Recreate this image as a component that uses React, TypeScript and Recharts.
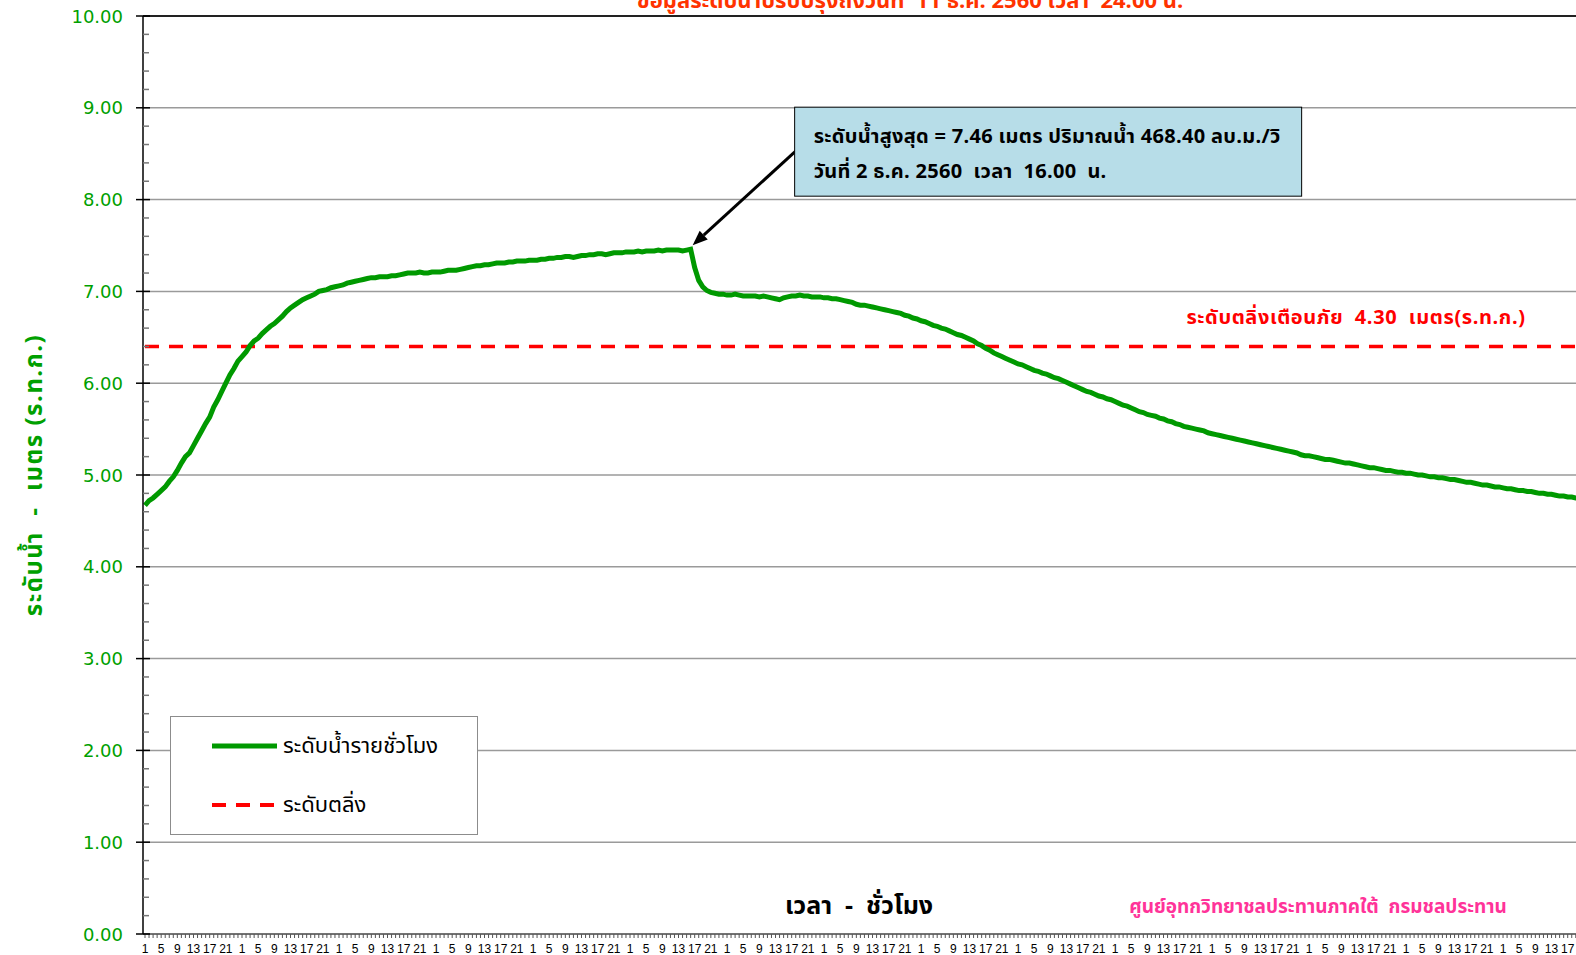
import { LineChart, Line, XAxis, YAxis, ReferenceLine, ReferenceDot, Legend } from 'recharts';

// hourly water level (m) for each day, hours 1..24
const nov27 = [4.67, 4.72, 4.75, 4.79, 4.83, 4.87, 4.93, 4.98, 5.05, 5.13, 5.2, 5.24, 5.32, 5.4, 5.48, 5.56, 5.63, 5.74, 5.82, 5.91, 6.0, 6.09, 6.16, 6.24];
const nov28 = [6.29, 6.34, 6.41, 6.46, 6.49, 6.54, 6.58, 6.62, 6.65, 6.69, 6.73, 6.78, 6.82, 6.85, 6.88, 6.91, 6.93, 6.95, 6.97, 7.0, 7.01, 7.02, 7.04, 7.05];
const nov29 = [7.06, 7.07, 7.09, 7.1, 7.11, 7.12, 7.13, 7.14, 7.15, 7.15, 7.16, 7.16, 7.16, 7.17, 7.17, 7.18, 7.19, 7.2, 7.2, 7.2, 7.21, 7.2, 7.2, 7.21];
const nov30 = [7.21, 7.21, 7.22, 7.23, 7.23, 7.23, 7.24, 7.25, 7.26, 7.27, 7.28, 7.28, 7.29, 7.29, 7.3, 7.31, 7.31, 7.31, 7.32, 7.32, 7.33, 7.33, 7.33, 7.34];
const dec01 = [7.34, 7.34, 7.35, 7.35, 7.36, 7.36, 7.37, 7.37, 7.38, 7.38, 7.37, 7.38, 7.39, 7.39, 7.4, 7.4, 7.41, 7.41, 7.4, 7.41, 7.42, 7.42, 7.42, 7.43];
const dec02 = [7.43, 7.43, 7.44, 7.43, 7.44, 7.44, 7.44, 7.45, 7.44, 7.45, 7.45, 7.45, 7.45, 7.44, 7.45, 7.46, 7.26, 7.12, 7.05, 7.01, 6.99, 6.98, 6.97, 6.97];
const dec03 = [6.96, 6.96, 6.97, 6.96, 6.95, 6.95, 6.95, 6.95, 6.94, 6.95, 6.94, 6.93, 6.92, 6.91, 6.93, 6.94, 6.95, 6.95, 6.96, 6.95, 6.95, 6.94, 6.94, 6.94];
const dec04 = [6.93, 6.93, 6.92, 6.92, 6.91, 6.9, 6.89, 6.88, 6.86, 6.85, 6.85, 6.84, 6.83, 6.82, 6.81, 6.8, 6.79, 6.78, 6.77, 6.76, 6.74, 6.73, 6.71, 6.7];
const dec05 = [6.68, 6.67, 6.65, 6.63, 6.62, 6.6, 6.59, 6.57, 6.55, 6.53, 6.52, 6.5, 6.48, 6.46, 6.43, 6.41, 6.38, 6.36, 6.33, 6.31, 6.29, 6.27, 6.25, 6.23];
const dec06 = [6.21, 6.2, 6.18, 6.16, 6.14, 6.13, 6.11, 6.1, 6.08, 6.06, 6.05, 6.03, 6.01, 5.99, 5.97, 5.95, 5.93, 5.91, 5.9, 5.88, 5.86, 5.85, 5.83, 5.82];
const dec07 = [5.8, 5.78, 5.76, 5.75, 5.73, 5.71, 5.69, 5.68, 5.66, 5.65, 5.64, 5.62, 5.61, 5.59, 5.58, 5.56, 5.55, 5.53, 5.52, 5.51, 5.5, 5.49, 5.48, 5.46];
const dec08 = [5.45, 5.44, 5.43, 5.42, 5.41, 5.4, 5.39, 5.38, 5.37, 5.36, 5.35, 5.34, 5.33, 5.32, 5.31, 5.3, 5.29, 5.28, 5.27, 5.26, 5.25, 5.24, 5.22, 5.21];
const dec09 = [5.21, 5.2, 5.19, 5.18, 5.17, 5.17, 5.16, 5.15, 5.14, 5.13, 5.13, 5.12, 5.11, 5.1, 5.09, 5.08, 5.08, 5.07, 5.06, 5.05, 5.05, 5.04, 5.03, 5.03];
const dec10 = [5.02, 5.02, 5.01, 5.0, 5.0, 4.99, 4.98, 4.98, 4.97, 4.97, 4.96, 4.95, 4.95, 4.94, 4.93, 4.92, 4.92, 4.91, 4.9, 4.89, 4.89, 4.88, 4.87, 4.87];
const dec11 = [4.86, 4.85, 4.85, 4.84, 4.83, 4.83, 4.82, 4.82, 4.81, 4.8, 4.8, 4.79, 4.79, 4.78, 4.77, 4.77, 4.76, 4.76, 4.75, 4.75, 4.74, 4.74, 4.73, 4.73];

const dates = ['27 พ.ย.', '28 พ.ย.', '29 พ.ย.', '30 พ.ย.', '1 ธ.ค.', '2 ธ.ค.', '3 ธ.ค.', '4 ธ.ค.', '5 ธ.ค.', '6 ธ.ค.', '7 ธ.ค.', '8 ธ.ค.', '9 ธ.ค.', '10 ธ.ค.', '11 ธ.ค.'];
const hoursOfDay = [1, 2, 3, 4, 5, 6, 7, 8, 9, 10, 11, 12, 13, 14, 15, 16, 17, 18, 19, 20, 21, 22, 23, 24];
const labelledHours = [1, 5, 9, 13, 17, 21];
const yTicks = [0, 1, 2, 3, 4, 5, 6, 7, 8, 9, 10];
const bankLevel = 6.4;
const peakDate = '2 ธ.ค.';
const peakHour = 16;
const peakLevel = 7.46;

const levelsByDay = [nov27, nov28, nov29, nov30, dec01, dec02, dec03, dec04, dec05, dec06, dec07, dec08, dec09, dec10, dec11];

const data = dates.flatMap((d, di) =>
  hoursOfDay.map((h, hi) => ({ t: `${d} ${h}`, hour: h, level: levelsByDay[di][hi], bank: bankLevel }))
);

const minorTicks = Array.from({ length: 51 }, (_, i) => Math.round(i * 20) / 100);

const GREEN = '#009900';
const LABEL_GREEN = '#00a000';
const RED = '#ff0000';
const thaiFont = "Tahoma, 'Noto Sans Thai', 'Noto Sans', 'DejaVu Sans', sans-serif";

const YTick = (props: any) => {
  const { x, y, payload } = props;
  const v = payload.value;
  const major = Math.abs(v - Math.round(v)) < 0.001;
  if (!major) {
    return <line x1={x} y1={y} x2={x + 6} y2={y} stroke="#777" strokeWidth={1.5} />;
  }
  return (
    <g>
      <line x1={x - 7} y1={y} x2={x + 7} y2={y} stroke="#000" strokeWidth={1.5} />
      <text x={x - 20} y={y} textAnchor="end" dominantBaseline="central" fill={LABEL_GREEN} fontSize={18} fontFamily="'DejaVu Sans', sans-serif">
        {v.toFixed(2)}
      </text>
    </g>
  );
};

const XTick = (props: any) => {
  const { x, y, index } = props;
  const h = data[index] ? data[index].hour : 0;
  return (
    <g>
      <line x1={x} y1={y} x2={x} y2={y + 4} stroke="#555" strokeWidth={1} />
      {labelledHours.includes(h) && (
        <text x={x} y={y + 15} textAnchor="middle" dominantBaseline="central" fill="#000" fontSize={12} fontFamily="'Liberation Sans', sans-serif">
          {h}
        </text>
      )}
    </g>
  );
};

const YAxisTitle = (props: any) => {
  const vb = props.viewBox || { y: 16, height: 918 };
  const cx = 35;
  const cy = vb.y + vb.height / 2;
  return (
    <text x={cx} y={cy} transform={`rotate(-90 ${cx} ${cy})`} textAnchor="middle" dominantBaseline="central" fill={LABEL_GREEN} fontSize={24} fontWeight="bold" letterSpacing={1.5} fontFamily={thaiFont} style={{ whiteSpace: 'pre' }}>
      ระดับน้ำ  -  เมตร (ร.ท.ก.)
    </text>
  );
};

const PeakNote = (props: any) => {
  const { cx, cy } = props;
  const tipX = cx + 2;
  const tipY = cy - 4;
  const sx = cx + 105;
  const sy = cy - 98;
  const dx = tipX - sx;
  const dy = tipY - sy;
  const len = Math.sqrt(dx * dx + dy * dy);
  const ux = dx / len;
  const uy = dy / len;
  const bx = tipX - ux * 15;
  const by = tipY - uy * 15;
  const head = `${tipX},${tipY} ${bx - uy * 6},${by + ux * 6} ${bx + uy * 6},${by - ux * 6}`;
  const boxX = cx + 104;
  const boxY = cy - 142;
  return (
    <g>
      <line x1={sx} y1={sy} x2={bx} y2={by} stroke="#000" strokeWidth={3} />
      <polygon points={head} fill="#000" />
      <rect x={boxX} y={boxY} width={507} height={89} fill="#b7dde8" stroke="#000" strokeWidth={1} />
      <text x={boxX + 19} y={boxY + 30} dominantBaseline="central" fontSize={20} fontWeight="bold" letterSpacing={0.3} fill="#000" fontFamily={thaiFont}>
        {`ระดับน้ำสูงสุด = ${peakLevel.toFixed(2)} เมตร ปริมาณน้ำ 468.40 ลบ.ม./วิ`}
      </text>
      <text x={boxX + 19} y={boxY + 65} dominantBaseline="central" fontSize={20} fontWeight="bold" letterSpacing={0.3} fill="#000" fontFamily={thaiFont} style={{ whiteSpace: 'pre' }}>
        {`วันที่ 2 ธ.ค. 2560  เวลา  ${peakHour.toFixed(2)}  น.`}
      </text>
    </g>
  );
};

const LegendBox = () => (
  <div style={{ width: 306, height: 117, border: '1px solid #8c8c8c', background: '#fff' }}>
    <svg width={306} height={117} style={{ display: 'block' }}>
      <line x1={41} y1={29} x2={106} y2={29} stroke={GREEN} strokeWidth={5} />
      <line x1={41} y1={88} x2={106} y2={88} stroke={RED} strokeWidth={4} strokeDasharray="14 10" />
      <text x={112} y={29} dominantBaseline="central" fontSize={22} fill="#000" fontFamily={thaiFont}>ระดับน้ำรายชั่วโมง</text>
      <text x={112} y={88} dominantBaseline="central" fontSize={22} fill="#000" fontFamily={thaiFont}>ระดับตลิ่ง</text>
    </svg>
  </div>
);

export default function App() {
  return (
    <div style={{ position: 'fixed', left: 0, top: 0, width: 1576, height: 955, overflow: 'hidden', background: '#fff' }}>
      <LineChart width={1640} height={955} data={data} margin={{ top: 16, right: 42, bottom: 0, left: 0 }}>
        <XAxis
          dataKey="t"
          interval={0}
          tick={<XTick />}
          tickLine={false}
          tickSize={0}
          tickMargin={0}
          height={21}
          padding={{ left: 2, right: 2 }}
          axisLine={{ stroke: '#444', strokeWidth: 1.5 }}
        />
        <YAxis
          domain={[0, 10]}
          ticks={minorTicks}
          interval={0}
          width={143}
          tick={<YTick />}
          tickLine={false}
          tickSize={0}
          tickMargin={0}
          axisLine={{ stroke: '#000', strokeWidth: 1.5 }}
          label={<YAxisTitle />}
        />
        {yTicks.slice(1, 10).map((v) => (
          <ReferenceLine key={v} y={v} stroke="#9a9a9a" strokeWidth={1.5} />
        ))}
        <ReferenceLine y={10} stroke="#222" strokeWidth={2} />
        <Line dataKey="bank" name="ระดับตลิ่ง" stroke={RED} strokeWidth={3.5} strokeDasharray="14 10" dot={false} isAnimationActive={false} />
        <Line dataKey="level" name="ระดับน้ำรายชั่วโมง" stroke={GREEN} strokeWidth={5} dot={false} isAnimationActive={false} />
        <ReferenceDot x={`${peakDate} ${peakHour}`} y={peakLevel} ifOverflow="visible" shape={<PeakNote />} />
        <Legend
          layout="vertical"
          align="center"
          verticalAlign="middle"
          content={<LegendBox />}
          wrapperStyle={{ left: 170, top: 716, width: 308, height: 119 }}
        />
      </LineChart>
      <div style={{ position: 'absolute', left: 0, top: 0, width: 1576, height: 955, pointerEvents: 'none' }}>
        <svg width={1576} height={955} style={{ display: 'block' }}>
          <text x={910} y={8} textAnchor="middle" fontSize={22} fontWeight="bold" fill="#ff3300" fontFamily={thaiFont} style={{ whiteSpace: 'pre' }}>
            ข้อมูลระดับน้ำปรับปรุงถึงวันที่  11 ธ.ค. 2560 เวลา  24.00 น.
          </text>
          <text x={1356} y={318} textAnchor="middle" dominantBaseline="central" fontSize={20} fontWeight="bold" letterSpacing={0.6} fill={RED} fontFamily={thaiFont} style={{ whiteSpace: 'pre' }}>
            ระดับตลิ่งเตือนภัย  4.30  เมตร(ร.ท.ก.)
          </text>
          <text x={859} y={906} textAnchor="middle" dominantBaseline="central" fontSize={25} fontWeight="bold" fill="#000" fontFamily={thaiFont} style={{ whiteSpace: 'pre' }}>
            เวลา  -  ชั่วโมง
          </text>
          <text x={1318} y={907} textAnchor="middle" dominantBaseline="central" fontSize={19} fontWeight="bold" fill="#ff3399" fontFamily={thaiFont} style={{ whiteSpace: 'pre' }}>
            ศูนย์อุทกวิทยาชลประทานภาคใต้  กรมชลประทาน
          </text>
        </svg>
      </div>
    </div>
  );
}
